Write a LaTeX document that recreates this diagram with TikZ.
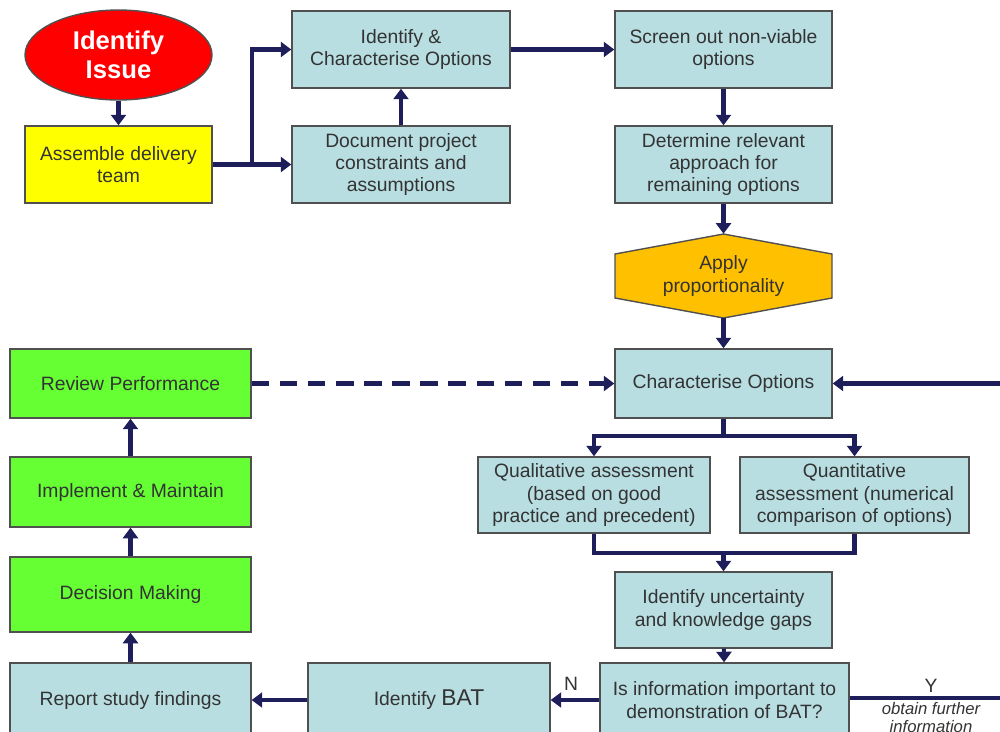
\documentclass[tikz,border=0pt]{standalone}
\usepackage{fontspec}
\setmainfont{Liberation Sans}
\usetikzlibrary{arrows.meta,shapes.geometric}
\definecolor{boxfill}{RGB}{184,222,226}
\definecolor{greenfill}{RGB}{102,255,51}
\definecolor{yellowfill}{RGB}{255,255,0}
\definecolor{orangefill}{RGB}{255,192,0}
\definecolor{redfill}{RGB}{255,0,0}
\definecolor{navy}{RGB}{30,30,90}
\definecolor{txt}{RGB}{51,51,51}
\definecolor{edge}{RGB}{80,80,80}
\tikzset{
  basebox/.style={draw=edge, line width=0.8pt, align=center, text=txt, inner sep=2pt,
    font=\fontsize{11}{12.8}\selectfont},
  bluebox/.style={basebox, fill=boxfill},
  greenbox/.style={basebox, fill=greenfill, minimum width=4.82cm},
  conn/.style={draw=navy, line width=2.3pt},
  arr/.style={conn, -{Triangle[length=6pt,width=8.5pt]}},
  dashconn/.style={arr, dash pattern=on 10pt off 6pt},
  lbl/.style={text=txt, font=\fontsize{11}{12.8}\selectfont},
}
\begin{document}
\begin{tikzpicture}[x=0.02cm,y=-0.02cm]
\useasboundingbox (0,0) rectangle (1000,731);
\clip (0,0) rectangle (1000,731);

% start of the process
\node[ellipse, draw=edge, line width=0.8pt, fill=redfill, text=white, align=center,
  minimum width=3.74cm, minimum height=1.8cm, inner sep=0pt,
  font=\fontsize{14.6}{16.4}\selectfont\bfseries] (issue) at (118.5,55) {Identify\\Issue};
\node[basebox, fill=yellowfill, minimum width=3.74cm, minimum height=1.54cm] (assemble) at (118.5,164.5) {Assemble delivery\\team};

% top row
\node[bluebox, minimum width=4.36cm, minimum height=1.54cm] (idchar) at (401,49.5) {Identify \&\\Characterise Options};
\node[bluebox, minimum width=4.36cm, minimum height=1.54cm] (doc) at (401,164.5) {Document project\\constraints and\\assumptions};
\node[bluebox, minimum width=4.34cm, minimum height=1.54cm] (screen) at (723.5,49.5) {Screen out non-viable\\options};
\node[bluebox, minimum width=4.34cm, minimum height=1.54cm] (determine) at (723.5,164.5) {Determine relevant\\approach for\\remaining options};

% proportionality hexagon
\filldraw[fill=orangefill, draw=edge, line width=0.8pt]
  (615,254) -- (723.5,234) -- (832,254) -- (832,298) -- (723.5,318) -- (615,298) -- cycle;
\node[lbl, align=center, minimum height=1.68cm, minimum width=4.34cm, inner sep=0pt] (hex) at (723.5,276) {Apply\\proportionality};

% assessment block
\node[bluebox, minimum width=4.34cm, minimum height=1.38cm] (charopt) at (723.5,383.5) {Characterise Options};
\node[bluebox, minimum width=4.64cm, minimum height=1.52cm] (qual) at (594,495) {Qualitative assessment\\(based on good\\practice and precedent)};
\node[bluebox, minimum width=4.58cm, minimum height=1.52cm] (quant) at (854.5,495) {Quantitative\\assessment (numerical\\comparison of options)};
\node[bluebox, minimum width=4.34cm, minimum height=1.52cm] (uncert) at (723.5,610) {Identify uncertainty\\and knowledge gaps};
\node[bluebox, minimum width=4.98cm, minimum height=1.48cm] (isinfo) at (724.5,700) {Is information important to\\demonstration of BAT?};
\node[bluebox, minimum width=4.84cm, minimum height=1.48cm] (idbat) at (429,700) {Identify {\fontsize{13}{14}\selectfont BAT}};

% left column
\node[greenbox, minimum height=1.38cm] (review) at (130.5,383.5) {Review Performance};
\node[greenbox, minimum height=1.40cm] (implement) at (130.5,492) {Implement \& Maintain};
\node[greenbox, minimum height=1.50cm] (decision) at (130.5,594.5) {Decision Making};
\node[bluebox, minimum width=4.82cm, minimum height=1.48cm] (report) at (130.5,700) {Report study findings};

% connectors
\coordinate (split) at (252,164.5);
\coordinate (loopin) at (1000,383.5);
\coordinate (fork) at (723.5,436);
\coordinate (merge) at (723.5,553);
\coordinate (yout) at (1000,698);

\draw[arr] (issue) -- (assemble);
\draw[arr] (assemble) -- (doc);
\draw[arr] (split) |- (idchar.west);
\draw[arr] (doc) -- (idchar);
\draw[arr] (idchar) -- (screen);
\draw[arr] (screen) -- (determine);
\draw[arr] (determine) -- (hex);
\draw[arr] (hex) -- (charopt);
\draw[dashconn] (review) -- (charopt);
\draw[arr] (loopin) -- (charopt);
\draw[conn] (charopt.south) -- (fork);
\draw[arr] (fork) -| (qual.north);
\draw[arr] (fork) -| (quant.north);
\draw[conn] (qual.south) |- (merge) -| (quant.south);
\draw[arr] (merge) -- (uncert);
\draw[arr] (uncert) -- (isinfo);
\draw[arr] (isinfo) -- (idbat);
\draw[arr] (idbat) -- (report);
\draw[arr] (report) -- (decision);
\draw[arr] (decision) -- (implement);
\draw[arr] (implement) -- (review);
\draw[conn] (yout -| isinfo.east) -- (yout);

% branch labels
\node[lbl, inner sep=0pt] (nlabel) at (571,684) {N};
\node[lbl, inner sep=0pt] (ylabel) at (931,686) {Y};
\node[text=txt, align=center, anchor=north, inner sep=0pt,
  font=\fontsize{9.5}{10.5}\selectfont\itshape] (further) at (931,702) {obtain further\\information};
\end{tikzpicture}
\end{document}
